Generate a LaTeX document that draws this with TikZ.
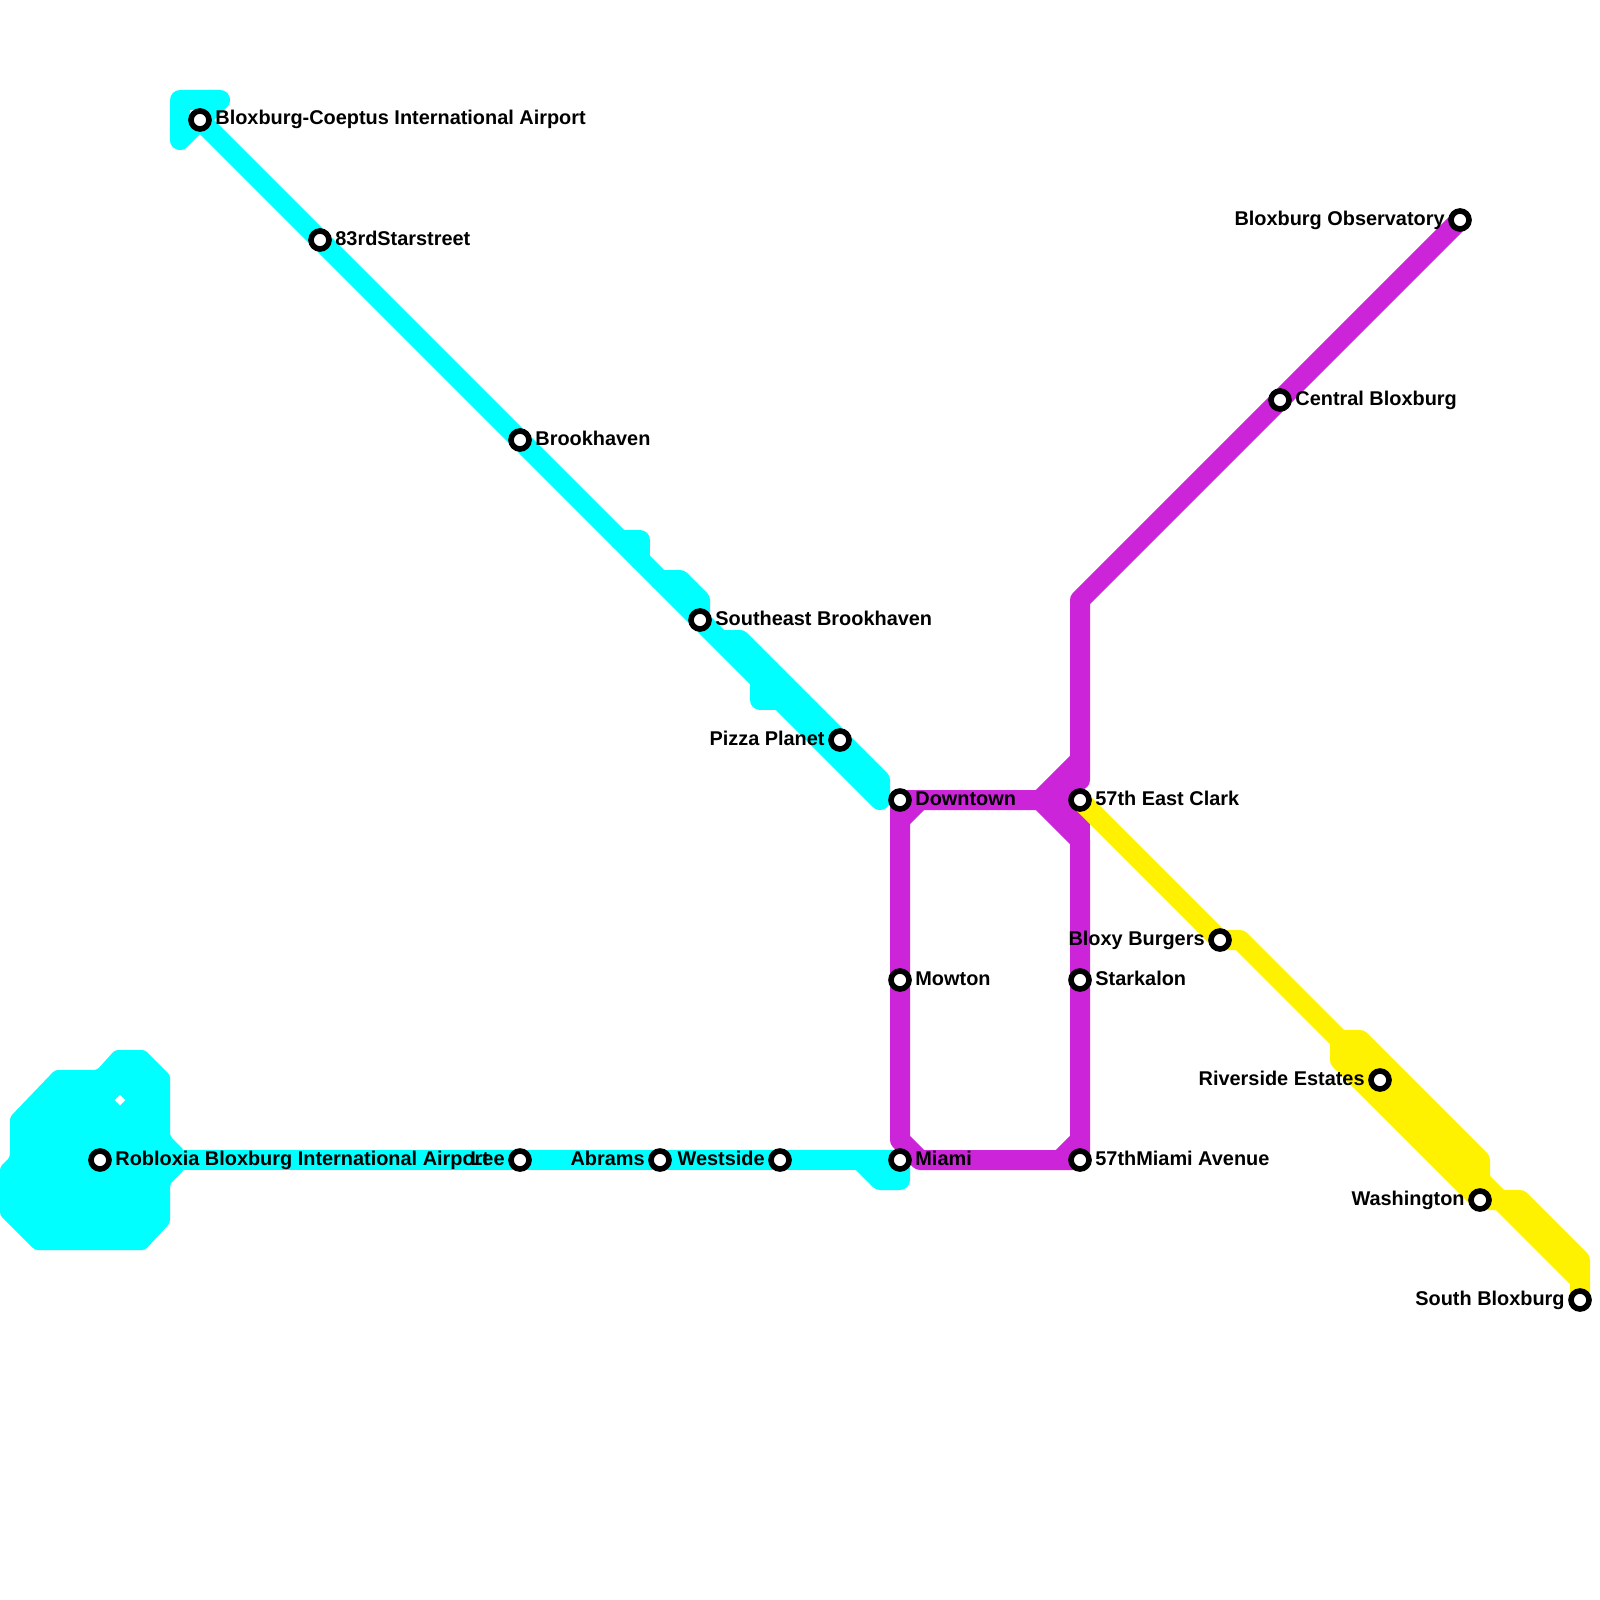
\documentclass[tikz,border=0pt]{standalone}
\usepackage{fontspec}
\setmainfont{Liberation Sans}
\definecolor{cyanline}{HTML}{00FFFF}
\definecolor{purpleline}{HTML}{CC24D9}
\definecolor{yellowline}{HTML}{FFF200}
\pgfdeclarelayer{lines}
\pgfsetlayers{lines,main}
\tikzset{
  metro/.style={line width=10pt,line cap=round,line join=round},
  cyanmetro/.style={metro,draw=cyanline},
  purplemetro/.style={metro,draw=purpleline},
  yellowmetro/.style={metro,draw=yellowline},
  station/.style={circle,draw=black,fill=white,line width=2.8pt,minimum size=9pt,inner sep=0pt},
  rlabel/.style={anchor=base west,font=\bfseries\fontsize{9.95}{12}\selectfont,inner sep=0pt},
  llabel/.style={anchor=base east,font=\bfseries\fontsize{9.95}{12}\selectfont,inner sep=0pt},
}
\begin{document}
\begin{tikzpicture}[x=0.5pt,y=-0.5pt]
\useasboundingbox (0,0) rectangle (1600,1600);
% stations
\node[station] (airport) at (200,120) {};
\node[station] (third) at (320,240) {};
\node[station] (brook) at (520,440) {};
\node[station] (southeast) at (700,620) {};
\node[station] (pizza) at (840,740) {};
\node[station] (downtown) at (900,800) {};
\node[station] (east) at (1080,800) {};
\node[station] (central) at (1280,400) {};
\node[station] (observatory) at (1460,220) {};
\node[station] (mowton) at (900,980) {};
\node[station] (starkalon) at (1080,980) {};
\node[station] (miami) at (900,1160) {};
\node[station] (avenue) at (1080,1160) {};
\node[station] (westside) at (780,1160) {};
\node[station] (abrams) at (660,1160) {};
\node[station] (lee) at (520,1160) {};
\node[station] (robloxia) at (100,1160) {};
\node[station] (bloxy) at (1220,940) {};
\node[station] (riverside) at (1380,1080) {};
\node[station] (washington) at (1480,1200) {};
\node[station] (south) at (1580,1300) {};
% labels
\node[rlabel] (lairport) at (215,125) {Bloxburg-Coeptus International Airport};
\node[rlabel] (lthird) at (335,245) {83rdStarstreet};
\node[rlabel] (lbrook) at (535,445) {Brookhaven};
\node[rlabel] (lsoutheast) at (715,625) {Southeast Brookhaven};
\node[llabel] (lpizza) at (825,745) {Pizza Planet};
\node[rlabel] (ldowntown) at (915,805) {Downtown};
\node[rlabel] (least) at (1095,805) {57th East Clark};
\node[rlabel] (lcentral) at (1295,405) {Central Bloxburg};
\node[llabel] (lobservatory) at (1445,225) {Bloxburg Observatory};
\node[rlabel] (lmowton) at (915,985) {Mowton};
\node[rlabel] (lstarkalon) at (1095,985) {Starkalon};
\node[rlabel] (lmiami) at (915,1165) {Miami};
\node[rlabel] (lavenue) at (1095,1165) {57thMiami Avenue};
\node[llabel] (lwestside) at (765,1165) {Westside};
\node[llabel] (labrams) at (645,1165) {Abrams};
\node[llabel] (llee) at (505,1165) {Lee};
\node[rlabel] (lrobloxia) at (115,1165) {Robloxia Bloxburg International Airport};
\node[llabel] (lbloxy) at (1205,945) {Bloxy Burgers};
\node[llabel] (lriverside) at (1365,1085) {Riverside Estates};
\node[llabel] (lwashington) at (1465,1205) {Washington};
\node[llabel] (lsouth) at (1565,1305) {South Bloxburg};
% bends
\coordinate (ca) at (220,100);
\coordinate (cb) at (180,100);
\coordinate (cc) at (180,140);
\coordinate (cd) at (620,540);
\coordinate (ce) at (640,540);
\coordinate (cf) at (640,560);
\coordinate (cg) at (660,580);
\coordinate (ch) at (680,580);
\coordinate (ci) at (700,600);
\coordinate (cj) at (720,640);
\coordinate (ck) at (740,640);
\coordinate (cl) at (880,780);
\coordinate (cm) at (880,800);
\coordinate (cn) at (760,680);
\coordinate (co) at (760,700);
\coordinate (cp) at (780,700);
\coordinate (cq) at (860,1160);
\coordinate (cr) at (880,1180);
\coordinate (cs) at (900,1180);
\coordinate (pa) at (1080,600);
\coordinate (pb) at (1080,780);
\coordinate (pc) at (1040,800);
\coordinate (pd) at (1080,760);
\coordinate (pe) at (1080,840);
\coordinate (pf) at (900,820);
\coordinate (pg) at (920,800);
\coordinate (ph) at (900,1140);
\coordinate (pi) at (920,1160);
\coordinate (pj) at (1060,1160);
\coordinate (pk) at (1080,1140);
\coordinate (ya) at (1240,940);
\coordinate (yb) at (1340,1040);
\coordinate (yc) at (1360,1040);
\coordinate (yd) at (1480,1160);
\coordinate (ye) at (1480,1180);
\coordinate (yf) at (1500,1200);
\coordinate (yg) at (1520,1200);
\coordinate (yh) at (1580,1260);
\coordinate (yi) at (1580,1280);
\coordinate (yj) at (1340,1060);
\begin{pgfonlayer}{lines}
% cyan
\fill[cyanline,even odd rule,rounded corners=1.5pt]
  (115,1050) -- (145,1050) -- (170,1075) -- (170,1136) -- (184,1150) -- (184,1170) -- (170,1184)
  -- (170,1223) -- (145,1250) -- (35,1250) -- (0,1215) -- (0,1167) -- (10,1157) -- (10,1117)
  -- (55,1070) -- (97,1070) -- cycle
  [sharp corners] (120,1094.5) -- (125.5,1100) -- (120,1105.5) -- (114.5,1100) -- cycle;
\draw[cyanmetro] (airport.center) -- (ca) -- (cb) -- (cc) -- (airport.center) -- (third.center) -- (brook.center) -- (southeast.center) -- (cm) -- (cl) -- (pizza.center) -- (ck) -- (cj);
\draw[cyanmetro] (cd) -- (ce) -- (cf);
\draw[cyanmetro] (cg) -- (ch) -- (ci) -- (southeast.center);
\draw[cyanmetro] (cn) -- (co) -- (cp);
\draw[cyanmetro] (robloxia.center) -- (lee.center) -- (abrams.center) -- (westside.center) -- (miami.center);
\draw[cyanmetro] (cq) -- (cr) -- (cs) -- (miami.center);
% purple
\draw[purplemetro] (observatory.center) -- (central.center) -- (pa) -- (pb);
\fill[purpleline] (pd) -- (pc) -- (pe) -- cycle;
\draw[purplemetro] (pd) -- (pc) -- (pe) -- (starkalon.center) -- (avenue.center);
\draw[purplemetro] (east.center) -- (pe);
\draw[purplemetro] (east.center) -- (downtown.center) -- (mowton.center) -- (ph) -- (pi) -- (avenue.center) -- (pj) -- (pk);
\draw[purplemetro] (pf) -- (pg);
% yellow
\draw[yellowmetro] (east.center) -- (bloxy.center) -- (ya) -- (yb) -- (riverside.center) -- (ye) -- (yf) -- (yi) -- (south.center);
\draw[yellowmetro] (yb) -- (yj) -- (washington.center) -- (yf);
\draw[yellowmetro] (yb) -- (yc) -- (yd) -- (ye);
\draw[yellowmetro] (yf) -- (yg) -- (yh) -- (yi);
\end{pgfonlayer}
\end{tikzpicture}
\end{document}
